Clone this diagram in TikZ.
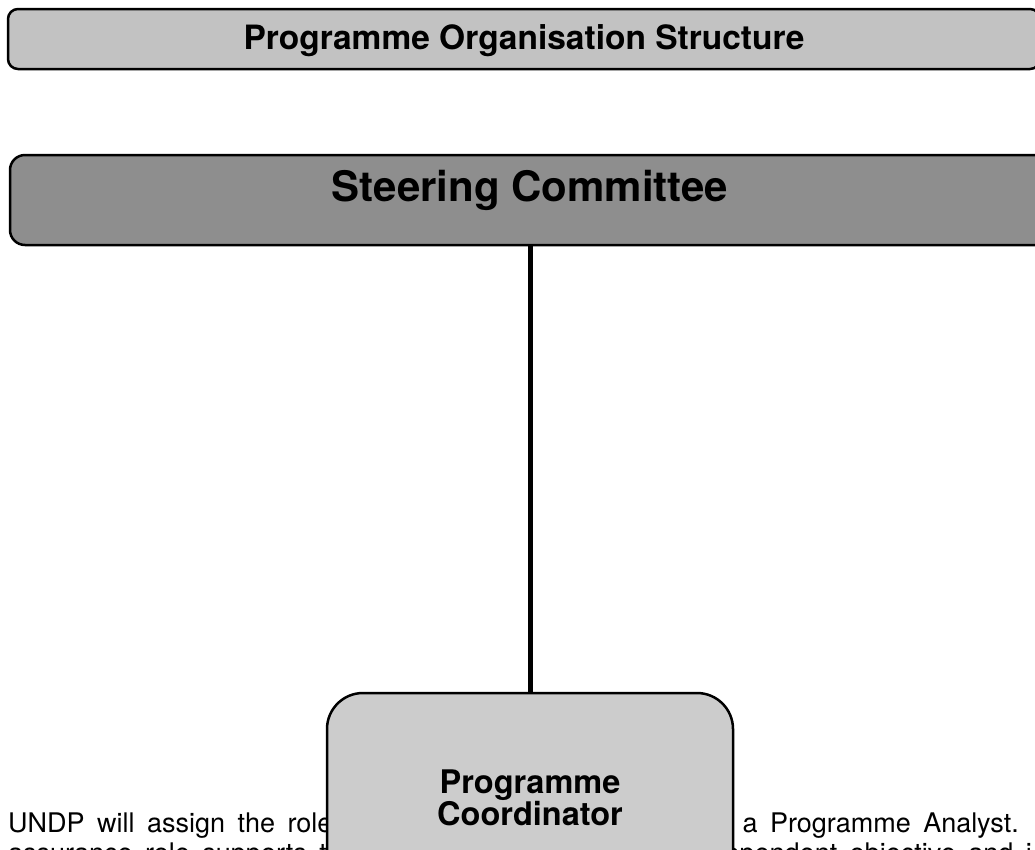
\documentclass[tikz,border=0pt]{standalone}
\usepackage{fontspec}
\setmainfont{TeX Gyre Heros}
\definecolor{titlegray}{HTML}{C2C2C2}
\definecolor{steergray}{HTML}{8E8E8E}
\definecolor{coordgray}{HTML}{CCCCCC}
\newcommand\bodyfont{\fontsize{27}{27}\selectfont\spaceskip=12.5pt\relax}
\begin{document}
\begin{tikzpicture}[x=1pt,y=-1pt,
  box/.style={draw=black,line width=2.5pt,rectangle,inner sep=0pt},
  titlebox/.style={box,fill=titlegray,rounded corners=10pt,font=\bfseries\fontsize{33.5}{33}\selectfont},
  steerbox/.style={box,fill=steergray,rounded corners=15pt,font=\bfseries\fontsize{42}{41}\selectfont},
  coordbox/.style={box,fill=coordgray,rounded corners=36pt,align=center,font=\bfseries\fontsize{32.5}{28}\selectfont},
  link/.style={draw=black,line width=5pt},
  body/.style={inner sep=0pt,font=\bodyfont}
]
\useasboundingbox (0,0) rectangle (1035,849);
\clip (0,0) rectangle (1035,849);
\fill[white] (0,0) rectangle (1035,849);

% body text (partly hidden behind the coordinator box)
\node[body,anchor=base west] (t1l) at (8,832) {UNDP will assign the role};
\node[body,anchor=base east] (t1r) at (1019,832) {to a Programme Analyst.};
\node[body,anchor=base west] (t2l) at (8,862) {assurance role supports the};
\node[body,anchor=base east] (t2r) at (1032,862) {independent objective and i};

% boxes
\node[titlebox,minimum width=1032pt,minimum height=60pt,text height=20pt,text depth=0pt] (title) at (524,39) {Programme Organisation Structure};
\node[steerbox,minimum width=1040pt,minimum height=90pt,text height=14pt,text depth=12pt] (steer) at (530,200) {Steering Committee};
\node[coordbox,minimum width=406pt,minimum height=210pt] (coord) at (530,798) {Programme\\Coordinator};

\draw[link] (steer.south) -- (coord.north);
\end{tikzpicture}
\end{document}
